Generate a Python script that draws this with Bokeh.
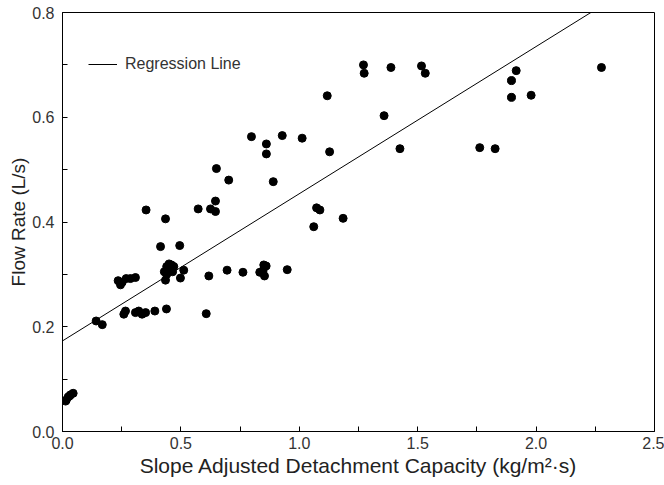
from bokeh.plotting import figure
from bokeh.models import Range1d, FixedTicker, Legend, LegendItem, CustomJSTickFormatter
from bokeh.embed import file_html
from bokeh.resources import INLINE

# Data
x_vals = [0.016, 0.024, 0.034, 0.045, 0.013, 0.030,
          0.142, 0.168,
          0.235, 0.245, 0.252, 0.269, 0.287, 0.308,
          0.259, 0.266, 0.308, 0.322, 0.336, 0.351, 0.390, 0.439,
          0.353, 0.435, 0.414, 0.495,
          0.430, 0.440, 0.450, 0.460, 0.470, 0.440, 0.455, 0.465, 0.435, 0.498, 0.512,
          0.618, 0.607, 0.695, 0.762,
          0.833, 0.850, 0.847, 0.853, 0.860, 0.949,
          0.573, 0.625, 0.646, 0.646, 0.650, 0.702,
          0.798, 0.861, 0.861, 0.890, 0.928, 1.012,
          1.061, 1.073, 1.087, 1.118, 1.128, 1.185,
          1.271, 1.274, 1.387, 1.516, 1.532, 1.358, 1.425,
          1.762, 1.827, 1.896, 1.896, 1.916, 1.979, 2.276]
y_vals = [0.060, 0.066, 0.070, 0.073, 0.058, 0.068,
          0.211, 0.204,
          0.288, 0.280, 0.285, 0.292, 0.292, 0.294,
          0.224, 0.230, 0.227, 0.230, 0.224, 0.227, 0.230, 0.234,
          0.423, 0.406, 0.353, 0.355,
          0.305, 0.315, 0.320, 0.318, 0.315, 0.300, 0.310, 0.305, 0.289, 0.293, 0.308,
          0.297, 0.225, 0.308, 0.304,
          0.304, 0.318, 0.307, 0.297, 0.316, 0.309,
          0.425, 0.425, 0.420, 0.440, 0.502, 0.480,
          0.563, 0.549, 0.530, 0.477, 0.565, 0.560,
          0.391, 0.427, 0.423, 0.641, 0.534, 0.407,
          0.700, 0.684, 0.695, 0.698, 0.684, 0.603, 0.540,
          0.542, 0.540, 0.638, 0.670, 0.689, 0.642, 0.695]

reg_intercept = 0.173
reg_slope = 0.281
reg_x = [0.0, 2.5]
reg_y = [reg_intercept + reg_slope * v for v in reg_x]

x_major = [0.0, 0.5, 1.0, 1.5, 2.0, 2.5]
x_minor = [0.25, 0.75, 1.25, 1.75, 2.25]
y_major = [0.0, 0.2, 0.4, 0.6, 0.8]
y_minor = [0.1, 0.3, 0.5, 0.7]

FONT = "Liberation Sans"

p = figure(width=664, height=484, output_backend="svg", toolbar_location=None,
           x_range=Range1d(0, 2.5), y_range=Range1d(0, 0.8),
           min_border_left=62, min_border_right=10, min_border_top=12, min_border_bottom=53)

p.xgrid.visible = False
p.ygrid.visible = False
p.outline_line_color = "black"
p.outline_line_width = 1
p.background_fill_color = "white"
p.border_fill_color = "white"

p.xaxis.ticker = FixedTicker(ticks=x_major, minor_ticks=x_minor)
p.yaxis.ticker = FixedTicker(ticks=y_major, minor_ticks=y_minor)
for ax in (p.xaxis, p.yaxis):
    ax.major_tick_in = 5
    ax.major_tick_out = 0
    ax.minor_tick_in = 5
    ax.minor_tick_out = 0
    ax.axis_line_color = "black"
    ax.major_tick_line_color = "black"
    ax.minor_tick_line_color = "black"
    ax.major_label_text_font = FONT
    ax.major_label_text_font_size = "16px"
    ax.major_label_text_color = "#333333"
    ax.axis_label_text_font = FONT
    ax.axis_label_text_font_style = "normal"
    ax.axis_label_text_color = "#222222"
    ax.formatter = CustomJSTickFormatter(code="return tick.toFixed(1);")

p.xaxis.axis_label_text_font_size = "21px"
p.yaxis.axis_label_text_font_size = "19px"
p.xaxis.major_label_standoff = 5
p.yaxis.major_label_standoff = 8
p.xaxis.axis_label = "Slope Adjusted Detachment Capacity (kg/m²·s)"
p.yaxis.axis_label = "Flow Rate (L/s)"
p.xaxis.axis_label_standoff = 2
p.yaxis.axis_label_standoff = 0

reg = p.line(reg_x, reg_y, line_color="black", line_width=1)
p.scatter(x_vals, y_vals, size=8, color="black")

legend = Legend(items=[LegendItem(label="Regression Line", renderers=[reg])],
                location=(26, 357))
legend.border_line_color = None
legend.background_fill_alpha = 0
legend.padding = 0
legend.margin = 0
legend.glyph_width = 29
legend.label_standoff = 8
legend.label_text_font = FONT
legend.label_text_font_size = "16px"
legend.label_text_color = "#333333"
p.add_layout(legend, "center")

open("out.html", "w").write(file_html(p, INLINE))
